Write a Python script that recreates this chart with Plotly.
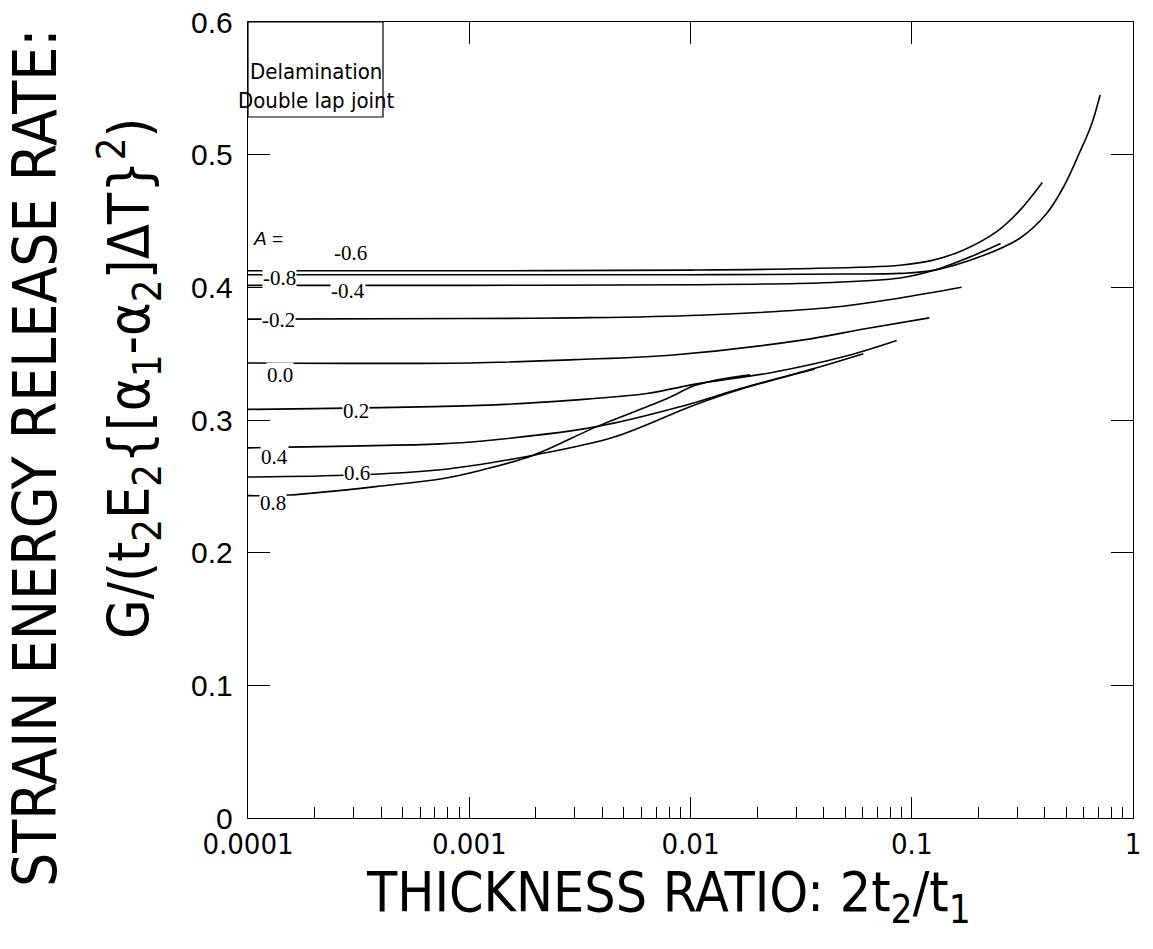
import plotly.graph_objects as go

# ---------------- data ----------------
A_labels = ["-0.8", "-0.6", "-0.4", "-0.2", "0.0", "0.2", "0.4", "0.6", "0.8"]

x_m08 = [1e-4, 1e-3, 0.01, 0.05, 0.0887, 0.127, 0.203, 0.308, 0.407, 0.49, 0.575, 0.65, 0.71]
g_m08 = [0.4095, 0.4095, 0.4095, 0.4100, 0.4105, 0.413, 0.423, 0.437, 0.4556, 0.477, 0.502, 0.523, 0.545]

x_m06 = [1e-4, 1e-3, 0.01, 0.03, 0.0887, 0.125, 0.1706, 0.242, 0.308, 0.389]
g_m06 = [0.4125, 0.4125, 0.413, 0.414, 0.4167, 0.4205, 0.428, 0.442, 0.458, 0.479]

x_m04 = [1e-4, 1e-3, 0.01, 0.04, 0.0887, 0.127, 0.203, 0.252]
g_m04 = [0.4015, 0.4015, 0.402, 0.4035, 0.407, 0.413, 0.426, 0.433]

x_m02 = [1e-4, 1e-3, 3e-3, 0.011, 0.0441, 0.0887, 0.168]
g_m02 = [0.376, 0.3765, 0.377, 0.379, 0.385, 0.392, 0.400]

x_p00 = [1e-4, 1e-3, 3e-3, 8.36e-3, 0.0313, 0.0625, 0.12]
g_p00 = [0.343, 0.343, 0.3455, 0.349, 0.360, 0.369, 0.377]

x_p02 = [1e-4, 1.12e-3, 2.95e-3, 6.34e-3, 0.011, 0.0237, 0.05, 0.0855]
g_p02 = [0.308, 0.311, 0.315, 0.320, 0.3276, 0.336, 0.348, 0.360]

x_p04 = [1e-4, 7.4e-4, 1.12e-3, 3.77e-3, 8.98e-3, 0.0167, 0.0365, 0.0604]
g_p04 = [0.279, 0.282, 0.284, 0.295, 0.310, 0.3235, 0.339, 0.350]

x_p06 = [1e-4, 3e-4, 7.4e-4, 1.12e-3, 1.95e-3, 4.48e-3, 0.0103, 0.0167, 0.0365]
g_p06 = [0.257, 0.2585, 0.2625, 0.2665, 0.2735, 0.287, 0.311, 0.323, 0.3385]

x_p08 = [1e-4, 1.55e-4, 4.4e-4, 7.4e-4, 1.12e-3, 1.95e-3, 3.77e-3, 7.8e-3, 0.0107, 0.0186]
g_p08 = [0.243, 0.2435, 0.251, 0.2555, 0.262, 0.2735, 0.295, 0.316, 0.3265, 0.334]

x_ticks = [1e-4, 1e-3, 1e-2, 1e-1, 1]
x_ticktext = ["0.0001", "0.001", "0.01", "0.1", "1"]
y_ticks = [0, 0.1, 0.2, 0.3, 0.4, 0.5, 0.6]
y_ticktext = ["0", "0.1", "0.2", "0.3", "0.4", "0.5", "0.6"]

curves = [(x_m08, g_m08), (x_m06, g_m06), (x_m04, g_m04), (x_m02, g_m02), (x_p00, g_p00),
          (x_p02, g_p02), (x_p04, g_p04), (x_p06, g_p06), (x_p08, g_p08)]

# ---------------- figure ----------------
NARROW = "Liberation Sans Narrow, DejaVu Sans Condensed, Arial Narrow, sans-serif"
SANS = "Liberation Sans, Arial, Helvetica, sans-serif"
SERIF = "Liberation Serif, Times New Roman, serif"

fig = go.Figure()
for (xs, gs), lab in zip(curves, A_labels):
    fig.add_trace(go.Scatter(x=xs, y=gs, mode="lines", name="A=" + lab,
                             line=dict(color="black", width=1.6, shape="spline", smoothing=1.0),
                             showlegend=False, hoverinfo="skip"))
# dummy trace for top axis
fig.add_trace(go.Scatter(x=[1e-4, 1], y=[None, None], xaxis="x2", mode="lines",
                         showlegend=False, hoverinfo="skip"))

# pixel helpers for label placement (plot area: x 248..1133, y 22..818)
L, R, T, B = 248, 1133, 22, 818
def lx(px):
    return -4 + (px - L) / ((R - L) / 4)
def vy(py):
    return (B - py) / ((B - T) / 0.6)

label_pos = {"-0.6": (350, 253), "-0.8": (279, 278), "-0.4": (348, 291), "-0.2": (278, 320),
             "0.0": (280, 375), "0.2": (356, 411), "0.4": (274, 457), "0.6": (357, 473),
             "0.8": (273, 503)}
ann = []
for lab in A_labels:
    px, py = label_pos[lab]
    ann.append(dict(x=lx(px), y=vy(py), xref="x", yref="y", text=lab, showarrow=False,
                    font=dict(family=SERIF, size=21, color="black"),
                    bgcolor="white", borderpad=0, xanchor="center", yanchor="middle"))
ann.append(dict(x=lx(268), y=vy(238), xref="x", yref="y", text="<i>A</i> =", showarrow=False,
                font=dict(family=SANS, size=19, color="black"), xanchor="center", yanchor="middle"))
# legend box text
ann.append(dict(x=lx(316), y=vy(86), xref="x", yref="y", text="Delamination<br>Double lap joint",
                showarrow=False, font=dict(family=NARROW, size=22, color="black"),
                xanchor="center", yanchor="middle", align="center"))
# y axis titles
ann.append(dict(x=(35 - L) / (R - L), y=(B - 458) / (B - T), xref="paper", yref="paper",
                text="STRAIN ENERGY RELEASE RATE:", textangle=-90, showarrow=False,
                font=dict(family=NARROW, size=60, color="black"), xanchor="center", yanchor="middle"))
ann.append(dict(x=(129 - L) / (R - L), y=(B - 378) / (B - T), xref="paper", yref="paper",
                text="G/(t<sub>2</sub>E<sub>2</sub>{[α<sub>1</sub>-α<sub>2</sub>]ΔT}<sup>2</sup>)",
                textangle=-90, showarrow=False,
                font=dict(family=NARROW, size=57, color="black"), xanchor="center", yanchor="middle"))
# x axis title
ann.append(dict(x=(668 - L) / (R - L), y=(B - 858) / (B - T), xref="paper", yref="paper",
                text="THICKNESS RATIO: 2t<sub>2</sub>/t<sub>1</sub>", showarrow=False,
                font=dict(family=NARROW, size=55, color="black"), xanchor="center", yanchor="top"))

minor_vals = [m * 10 ** e for e in range(-4, 0) for m in range(2, 10)]

fig.update_layout(
    width=1153, height=949,
    margin=dict(l=L, r=1153 - R, t=T, b=949 - B),
    paper_bgcolor="white", plot_bgcolor="white",
    annotations=ann,
    shapes=[dict(type="rect", xref="x domain", yref="y domain",
                 x0=0, x1=(383 - L) / (R - L), y0=(B - 117) / (B - T), y1=1,
                 line=dict(color="black", width=1.2), fillcolor="rgba(0,0,0,0)")],
    xaxis=dict(type="log", range=[-4, 0], tickvals=x_ticks, ticktext=x_ticktext,
               ticks="inside", ticklen=21, tickwidth=1.2, tickcolor="black",
               showline=True, linecolor="black", linewidth=1.4, mirror=False,
               showgrid=False, zeroline=False, ticklabelstandoff=0, automargin=False,
               tickfont=dict(family=NARROW, size=29, color="black"),
               minor=dict(tickvals=minor_vals, ticks="inside", ticklen=11, tickwidth=1.1,
                          tickcolor="black", showgrid=False)),
    xaxis2=dict(type="log", range=[-4, 0], overlaying="x", side="top", anchor="y",
                tickvals=x_ticks, ticks="inside", ticklen=22, tickwidth=1.2, tickcolor="black",
                showticklabels=False, showline=True, linecolor="black", linewidth=1.4,
                showgrid=False, zeroline=False, automargin=False),
    yaxis=dict(range=[0, 0.6], tickvals=y_ticks, ticktext=y_ticktext,
               ticks="inside", ticklen=22, tickwidth=1.2, tickcolor="black",
               showline=True, linecolor="black", linewidth=1.4, mirror="ticks",
               showgrid=False, zeroline=False, ticklabelstandoff=8, automargin=False,
               tickfont=dict(family=SANS, size=30, color="black")),
)

fig.write_html("out.html")
